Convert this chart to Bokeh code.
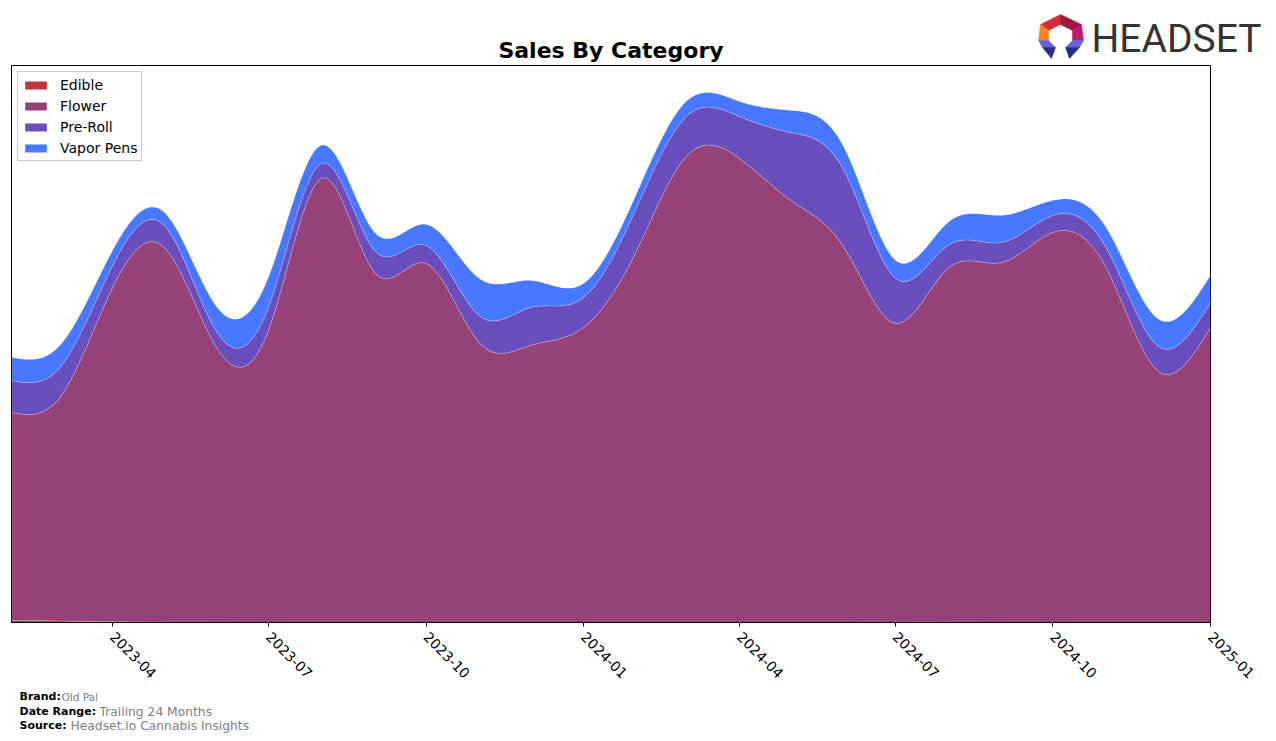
import numpy as np
import pandas as pd
from bokeh.plotting import figure
from bokeh.layouts import column
from bokeh.models import (ColumnDataSource, FixedTicker, DatetimeTickFormatter, Range1d)
from bokeh.core.properties import value
from bokeh.embed import file_html
from bokeh.resources import INLINE

# ---------------- data ----------------
months = ["2023-02", "2023-03", "2023-04", "2023-05", "2023-06", "2023-07", "2023-08",
          "2023-09", "2023-10", "2023-11", "2023-12", "2024-01", "2024-02", "2024-03",
          "2024-04", "2024-05", "2024-06", "2024-07", "2024-08", "2024-09", "2024-10",
          "2024-11", "2024-12", "2025-01"]
edible = [2.0, 1.5, 0.8, 0.3, 0.1, 0.0, 0.0, 0.0, 0.0, 0.0, 0.0, 0.0, 0.0, 0.0,
          0.0, 0.0, 0.0, 0.3, 0.3, 0.0, 0.0, 0.0, 0.0, 0.0]
flower = [208, 223, 334, 375, 274, 292, 444, 350, 359, 280, 277, 295, 372, 466,
          464, 422, 375, 299, 354, 360, 390, 355, 252, 295]
preroll = [32, 30, 22, 22, 16, 23, 15, 22, 18, 27, 38, 30, 43, 40,
           42, 68, 77, 45, 23, 20, 17, 20, 25, 25]
vapor = [23, 22, 15, 13, 25, 30, 18, 18, 21, 37, 27, 14, 14, 15,
         15, 22, 23, 18, 23, 27, 15, 20, 27, 27]
categories = ["Edible", "Flower", "Pre-Roll", "Vapor Pens"]
colors = ["#c0343a", "#964178", "#6a4ebd", "#4878ff"]
tick_labels = ["2023-04", "2023-07", "2023-10", "2024-01", "2024-04", "2024-07",
               "2024-10", "2025-01"]

# ---------------- smoothing (natural cubic spline, for drawing only) ----------------
def natural_spline(x, y, xs):
    x = np.asarray(x, float); y = np.asarray(y, float)
    n = len(x); h = np.diff(x)
    A = np.zeros((n, n)); b = np.zeros(n)
    A[0, 0] = 1; A[-1, -1] = 1
    for i in range(1, n - 1):
        A[i, i - 1] = h[i - 1]; A[i, i] = 2 * (h[i - 1] + h[i]); A[i, i + 1] = h[i]
        b[i] = 6 * ((y[i + 1] - y[i]) / h[i] - (y[i] - y[i - 1]) / h[i - 1])
    M = np.linalg.solve(A, b)
    idx = np.clip(np.searchsorted(x, xs) - 1, 0, n - 2)
    x0 = x[idx]; x1 = x[idx + 1]; hh = x1 - x0
    t0 = x1 - xs; t1 = xs - x0
    return (M[idx] * t0 ** 3 / (6 * hh) + M[idx + 1] * t1 ** 3 / (6 * hh)
            + (y[idx] / hh - M[idx] * hh / 6) * t0 + (y[idx + 1] / hh - M[idx + 1] * hh / 6) * t1)

dates = pd.to_datetime([m + "-01" for m in months])
xd = np.asarray(dates.astype("int64") // 10 ** 6, float)
xs = np.linspace(xd[0], xd[-1], 800)

series = {"Edible": edible, "Flower": flower, "Pre-Roll": preroll, "Vapor Pens": vapor}
data = {"x": xs}
for k, v in series.items():
    data[k] = np.clip(natural_spline(xd, v, xs), 0, None)
cum = np.zeros_like(xs)
for i, k in enumerate(categories):
    cum = cum + data[k]
    data["top%d" % i] = cum.copy()
src = ColumnDataSource(data)

W, H = 1276, 741
FL, FR, FT, FB = 11, 1210, 65, 622
FOOT_TOP = 687
MAIN_H = FOOT_TOP - FT     # main figure occupies canvas rows 65..687

# ---------------- header (title + logo) ----------------
head = figure(width=W, height=FT, output_backend="svg", toolbar_location=None,
              x_range=Range1d(0, W), y_range=Range1d(FT, 0), min_border=0,
              x_axis_location=None, y_axis_location=None)
head.frame_align = False
head.outline_line_color = None
head.grid.visible = False
head.text(x=[610.5], y=[50], text=["Sales By Category"], text_font=value("DejaVu Sans"),
          text_font_size="22px", text_font_style="bold", text_color="black",
          text_align="center", text_baseline="middle")
head.text(x=[1091], y=[38], text=["HEADSET"], text_font=value("Roboto"),
          text_font_size="39px", text_color="#333333", text_align="left",
          text_baseline="middle")
logo_polys = [
    ([1060, 1040, 1048, 1060], [14, 24, 30, 24], "#d42a3c"),
    ([1060, 1081, 1072, 1060], [14, 24, 30, 24], "#a0183e"),
    ([1040, 1038, 1048, 1048], [24, 40, 40, 30], "#f5821f"),
    ([1081, 1083, 1072, 1072], [24, 40, 40, 30], "#c0186f"),
    ([1038, 1048, 1055, 1042], [40, 40, 47, 47], "#6464d8"),
    ([1042, 1055, 1051], [47, 47, 58], "#2c2c88"),
    ([1083, 1072, 1065, 1079], [40, 40, 47, 47], "#6464d8"),
    ([1079, 1065, 1069], [47, 47, 58], "#2c2c88"),
]
head.patches(xs=[a for a, b, c in logo_polys], ys=[b for a, b, c in logo_polys],
             fill_color=[c for a, b, c in logo_polys],
             line_color=[c for a, b, c in logo_polys], line_width=0.5)

# ---------------- main chart ----------------
p = figure(width=W, height=MAIN_H, output_backend="svg", toolbar_location=None,
           x_axis_type="datetime", y_axis_location=None,
           min_border_left=FL, min_border_right=W - FR, min_border_top=0,
           min_border_bottom=MAIN_H - (FB - FT),
           x_range=Range1d(xd[0], xd[-1]), y_range=Range1d(0, FB - FT))
p.frame_align = False
p.varea_stack(stackers=categories, x="x", color=colors, source=src,
              legend_label=categories)
for i in range(3):
    p.line("x", "top%d" % i, source=src, line_color="white", line_alpha=0.35,
           line_width=0.8)

p.xgrid.visible = False
p.ygrid.visible = False
p.outline_line_color = "black"
p.outline_line_width = 1
p.outline_line_alpha = 1

tick_ms = [float(pd.Timestamp(t + "-01").value // 10 ** 6) for t in tick_labels]
p.xaxis.ticker = FixedTicker(ticks=tick_ms)
fmt = "%Y-%m"
p.xaxis.formatter = DatetimeTickFormatter(milliseconds=fmt, seconds=fmt, minsec=fmt,
                                          minutes=fmt, hourmin=fmt, hours=fmt, days=fmt,
                                          months=fmt, years=fmt)
p.xaxis.major_label_orientation = -np.pi / 4
p.xaxis.major_label_text_font = "DejaVu Sans"
p.xaxis.major_label_text_font_size = "14px"
p.xaxis.major_label_text_color = "black"
p.xaxis.major_label_standoff = 8
p.xaxis.axis_line_color = "black"
p.xaxis.major_tick_line_color = "black"
p.xaxis.major_tick_out = 4
p.xaxis.major_tick_in = 0
p.xaxis.minor_tick_line_color = None

lg = p.legend[0]
lg.location = "top_left"
lg.margin = 6
lg.padding = 4
lg.spacing = 4
lg.glyph_width = 27
lg.glyph_height = 10
lg.label_height = 17
lg.label_standoff = 11
lg.label_text_font = "DejaVu Sans"
lg.label_text_font_size = "14px"
lg.label_text_color = "black"
lg.border_line_color = "#cccccc"
lg.border_line_alpha = 1
lg.background_fill_alpha = 1

# ---------------- footer ----------------
foot = figure(width=W, height=H - FOOT_TOP, output_backend="svg", toolbar_location=None,
              x_range=Range1d(0, W), y_range=Range1d(H, FOOT_TOP), min_border=0,
              x_axis_location=None, y_axis_location=None)
foot.frame_align = False
foot.outline_line_color = None
foot.grid.visible = False
foot_labels = ["Brand:", "Date Range:", "Source:"]
foot_values = ["Old Pal", "Trailing 24 Months", "Headset.io Cannabis Insights"]
foot.text(x=[19, 19, 19], y=[696, 711, 725], text=foot_labels,
          text_font=value("DejaVu Sans"), text_font_size="11px", text_font_style="bold",
          text_color="black", text_baseline="middle", text_align="left")
foot.text(x=[61, 99, 70], y=[696, 711, 725], text=foot_values,
          text_font=value("DejaVu Sans"), text_font_size=["10.5px", "12.3px", "12.3px"],
          text_color="#808080", text_baseline="middle", text_align="left")

layout = column(head, p, foot, spacing=0)
open("out.html", "w").write(file_html(layout, INLINE))
